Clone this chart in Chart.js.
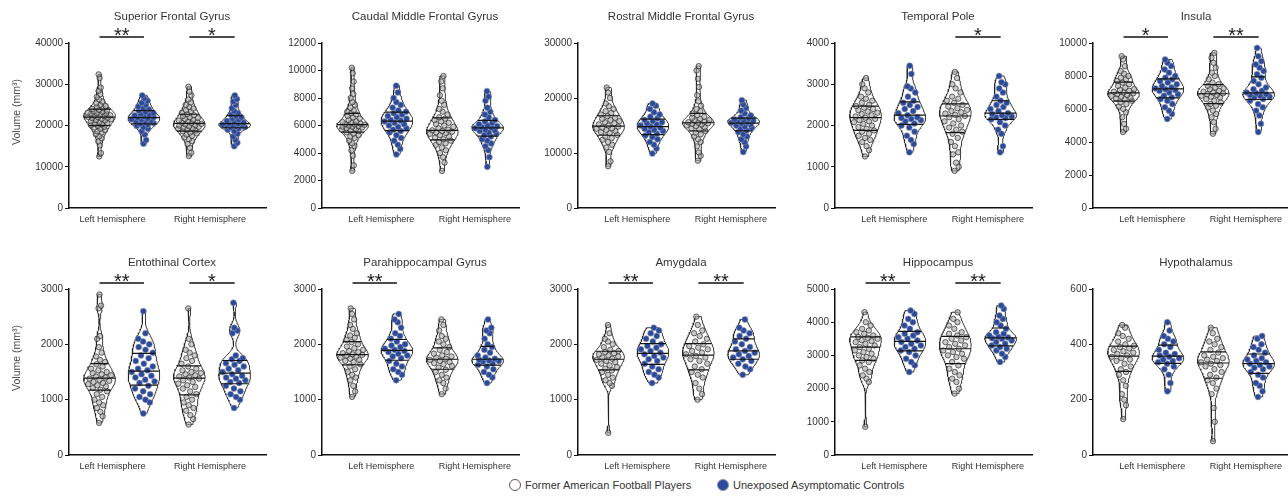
<!DOCTYPE html>
<html>
<head>
<meta charset="utf-8">
<script src="https://cdn.jsdelivr.net/npm/chart.js@4.4.1/dist/chart.umd.min.js"></script>
<style>
  html, body { margin: 0; padding: 0; background: #fff; overflow: hidden; }
  body { width: 1288px; height: 497px; position: relative; font-family: "Liberation Sans", Arial, Helvetica, sans-serif; }
  .panel { position: absolute; }
  .legend { position: absolute; top: 479px; font-size: 11px; color: #333; display: flex; align-items: center; }
  .dot { width: 12px; height: 12px; border-radius: 50%; box-sizing: border-box; margin-right: 4px; }
</style>
</head>
<body>
<div class="legend" style="left:509px"><span class="dot" style="border:1px solid #555;background:#fff"></span>Former American Football Players</div>
<div class="legend" style="left:717px"><span class="dot" style="background:#2c4a9a;border:1px solid #8d95b0"></span>Unexposed Asymptomatic Controls</div>
<script>
const FONT = '"Liberation Sans", Arial, Helvetica, sans-serif';

const titles = ['Superior Frontal Gyrus', 'Caudal Middle Frontal Gyrus', 'Rostral Middle Frontal Gyrus', 'Temporal Pole', 'Insula',
    'Entothinal Cortex', 'Parahippocampal Gyrus', 'Amygdala', 'Hippocampus', 'Hypothalamus'];
const hemispheres = ['Left Hemisphere', 'Right Hemisphere'];
const yMax = [40000, 12000, 30000, 4000, 10000, 3000, 3000, 3000, 5000, 600];
const yStep = [10000, 2000, 10000, 1000, 2000, 1000, 1000, 1000, 1000, 200];
const sigLeft = ['**', '', '', '', '*', '**', '**', '**', '**', ''];
const sigRight = ['*', '', '', '*', '**', '*', '', '**', '**', ''];

// volumes (mm3): LP/RP = former players left/right, LC/RC = controls left/right
const sfgLP = [12500,13300,15200,16100,16900,17400,17900,18300,18600,18900,19200,19500,19700,19900,20100,20300,20500,20600,20800,21000,21200,21300,21500,21600,21800,21900,22000,22100,22300,22400,22500,22600,22800,22900,23000,23100,23300,23400,23600,23800,24000,24200,24500,24700,25000,25400,25800,26300,26900,27600,28400,29200,31500,32400];
const sfgLC = [15600,16500,17800,18600,19200,19600,19900,20200,20400,20600,20800,21000,21200,21400,21500,21700,21900,22000,22200,22400,22600,22800,23000,23300,23600,23900,24200,24600,25000,25500,26000,26600,27300];
const sfgRP = [12600,13400,14600,15500,16200,16700,17100,17500,17800,18100,18300,18600,18800,19000,19200,19300,19500,19700,19800,20000,20100,20300,20400,20600,20700,20900,21000,21200,21400,21600,21800,22000,22300,22500,22800,23100,23400,23700,24100,24500,25000,25600,26300,27300,28200,29400];
const sfgRC = [15000,15800,16500,17300,18000,18600,19000,19300,19500,19600,19800,19900,20000,20100,20200,20400,20500,20700,20900,21100,21400,21700,22000,22300,22600,23000,23500,24200,25000,25800,26400,27300];

const cmfLP = [2700,3100,3800,4200,4500,4700,4900,5100,5200,5300,5400,5500,5600,5650,5700,5750,5800,5850,5900,5920,5950,6000,6050,6080,6100,6150,6200,6250,6300,6400,6500,6600,6700,6800,6900,7000,7100,7300,7500,7700,8000,8300,8700,9200,9800,10200];
const cmfLC = [3900,4300,4600,4900,5100,5300,5500,5600,5700,5800,5900,6000,6100,6200,6300,6350,6400,6500,6600,6700,6800,6900,7000,7100,7300,7500,7700,8000,8400,8900];
const cmfRP = [2700,3300,3700,4000,4200,4400,4600,4700,4800,4900,5000,5100,5200,5300,5400,5450,5500,5550,5600,5650,5700,5800,5900,6000,6100,6200,6300,6400,6500,6600,6800,7000,7200,7500,7800,8200,8700,9200,9600];
const cmfRC = [3000,3700,4200,4500,4700,4900,5000,5200,5300,5400,5500,5600,5650,5700,5800,5850,5900,5950,6000,6100,6200,6300,6400,6600,6800,7000,7300,7800,8100,8500];

const rmfLP = [7600,8500,10200,11000,11500,12000,12400,12700,13000,13300,13600,13800,14000,14200,14400,14500,14600,14800,15000,15200,15400,15600,15800,16000,16200,16400,16700,17000,17300,17600,18000,18500,19000,20000,21000,21900];
const rmfLC = [9900,10800,11500,12000,12500,12900,13200,13500,13800,14000,14200,14400,14600,14800,15000,15200,15400,15600,15800,16000,16300,16600,17000,17400,18000,18600,19000];
const rmfRP = [8600,9500,10100,11200,12000,12500,13000,13400,13700,14000,14300,14500,14700,14900,15000,15200,15300,15400,15500,15600,15700,15900,16000,16200,16400,16600,16900,17200,17600,18000,18600,19400,20500,22000,23500,25000,25800];
const rmfRC = [10200,11200,12000,12500,13000,13400,13800,14100,14400,14600,14800,15000,15200,15400,15500,15600,15800,15900,16000,16100,16300,16500,16800,17200,17700,18200,18800,19600];

const tpLP = [1250,1400,1500,1600,1650,1700,1750,1800,1850,1880,1920,1960,2000,2040,2080,2100,2130,2160,2190,2220,2250,2280,2310,2340,2370,2400,2430,2470,2500,2550,2600,2650,2700,2800,2900,3000,3150];
const tpLC = [1350,1550,1650,1750,1850,1950,2000,2050,2100,2130,2160,2180,2200,2250,2300,2350,2400,2450,2500,2550,2600,2700,2800,2900,2950,3250,3450];
const tpRP = [900,1000,1100,1300,1350,1500,1600,1700,1800,1850,1900,1950,2000,2050,2100,2150,2200,2230,2260,2290,2320,2350,2380,2420,2460,2500,2550,2600,2650,2700,2800,2900,3000,3150,3300];
const tpRC = [1350,1500,1800,1900,2000,2080,2150,2180,2200,2220,2250,2280,2300,2350,2400,2450,2500,2550,2600,2700,2800,2900,3000,3050,3200];

const insLP = [4600,4800,5100,5500,5800,6000,6150,6300,6400,6500,6600,6650,6700,6750,6800,6850,6900,6950,7000,7050,7100,7150,7200,7300,7400,7500,7600,7700,7800,7900,8000,8150,8300,8600,9000,9200];
const insLC = [5400,5700,5900,6100,6300,6500,6600,6700,6800,6900,7000,7100,7150,7200,7250,7300,7400,7500,7600,7700,7800,7900,8000,8200,8400,8600,8800,9000];
const insRP = [4500,4800,5200,5500,5700,5900,6100,6200,6300,6400,6500,6600,6700,6750,6800,6850,6900,6950,7000,7050,7100,7200,7250,7300,7400,7500,7600,7800,8000,8200,8500,8800,9100,9400];
const insRC = [4600,5100,5600,5900,6100,6300,6500,6600,6700,6750,6800,6850,6900,6950,7000,7100,7200,7300,7500,7700,7900,8100,8300,8500,8700,8900,9200,9700];

const entLP = [580,700,780,850,900,950,1000,1050,1100,1150,1180,1210,1240,1260,1280,1300,1320,1340,1360,1380,1400,1420,1440,1460,1480,1500,1530,1560,1600,1640,1680,1720,1780,1850,1950,2100,2150,2650,2700,2900];
const entLC = [750,950,1000,1050,1100,1150,1200,1250,1300,1330,1360,1400,1430,1460,1500,1530,1560,1600,1650,1700,1750,1800,1850,1900,1950,2000,2050,2100,2200,2600];
const entRP = [550,650,720,800,850,900,950,1000,1050,1100,1150,1200,1230,1260,1290,1320,1350,1380,1400,1420,1440,1460,1480,1500,1530,1560,1600,1650,1700,1750,1800,1850,1900,2000,2100,2650];
const entRC = [850,1000,1050,1100,1150,1200,1250,1300,1320,1350,1380,1400,1430,1460,1500,1530,1560,1600,1630,1660,1700,1730,1750,1800,2200,2250,2300,2750];

const phgLP = [1050,1150,1250,1350,1400,1450,1500,1550,1600,1640,1680,1700,1720,1740,1760,1780,1800,1810,1820,1840,1860,1880,1900,1930,1960,2000,2040,2080,2120,2160,2200,2280,2350,2450,2550,2650];
const phgLC = [1350,1450,1500,1550,1600,1650,1700,1750,1780,1800,1830,1860,1880,1900,1920,1950,1980,2000,2050,2100,2150,2200,2300,2400,2450,2550];
const phgRP = [1100,1200,1300,1350,1400,1450,1500,1540,1580,1610,1640,1660,1680,1700,1720,1740,1760,1780,1800,1830,1860,1900,1950,2000,2050,2100,2150,2250,2350,2450];
const phgRC = [1300,1400,1450,1500,1550,1600,1630,1660,1690,1700,1710,1720,1740,1760,1800,1850,1900,1950,2000,2100,2200,2250,2300,2450];

const amyLP = [400,1250,1300,1350,1400,1450,1500,1530,1560,1590,1620,1650,1680,1700,1720,1740,1760,1780,1800,1820,1840,1860,1880,1900,1950,2000,2050,2100,2200,2350];
const amyLC = [1300,1400,1450,1500,1550,1600,1650,1700,1730,1760,1790,1820,1850,1880,1910,1940,1970,2000,2050,2100,2150,2200,2250,2300];
const amyRP = [1000,1100,1200,1300,1400,1450,1500,1550,1600,1650,1700,1730,1760,1790,1820,1850,1880,1910,1940,1970,2000,2050,2100,2150,2200,2250,2350,2500];
const amyRC = [1450,1550,1600,1650,1700,1730,1760,1790,1820,1850,1880,1910,1950,2000,2050,2100,2150,2200,2250,2300,2450];

const hipLP = [850,2200,2300,2400,2500,2600,2700,2800,2850,2900,2950,3000,3050,3100,3150,3200,3250,3300,3350,3400,3430,3460,3500,3530,3560,3600,3650,3700,3750,3800,3900,4000,4300];
const hipLC = [2500,2700,2800,2900,3000,3100,3150,3200,3250,3300,3350,3400,3450,3500,3550,3600,3650,3700,3800,3900,4000,4100,4250,4350];
const hipRP = [1850,2000,2200,2300,2400,2500,2600,2700,2800,2900,2950,3000,3050,3100,3150,3200,3250,3300,3350,3400,3450,3500,3550,3600,3650,3700,3800,3900,4000,4100,4300];
const hipRC = [2800,2950,3050,3150,3200,3250,3300,3350,3400,3450,3500,3520,3540,3560,3600,3650,3700,3800,3900,4000,4100,4200,4400,4500];

const hypLP = [130,180,200,220,250,270,290,300,310,320,330,340,345,350,355,360,365,370,375,380,385,390,395,400,410,420,430,440,460,470];
const hypLC = [230,260,290,310,320,330,335,340,345,350,355,360,365,370,380,390,400,410,420,430,450,480];
const hypRP = [50,120,170,220,240,260,270,280,290,300,310,320,325,330,335,340,345,350,355,360,370,380,390,400,410,420,440,460];
const hypRC = [210,230,250,260,280,290,300,310,315,320,325,330,335,340,345,350,360,370,380,390,400,420,430];

const panelGroups = [
    [sfgLP, sfgLC, sfgRP, sfgRC], [cmfLP, cmfLC, cmfRP, cmfRC], [rmfLP, rmfLC, rmfRP, rmfRC],
    [tpLP, tpLC, tpRP, tpRC], [insLP, insLC, insRP, insRC], [entLP, entLC, entRP, entRC],
    [phgLP, phgLC, phgRP, phgRC], [amyLP, amyLC, amyRP, amyRC], [hipLP, hipLC, hipRP, hipRC],
    [hypLP, hypLC, hypRP, hypRC],
];

// layout
const axisX = [69, 322, 578, 835, 1093];
const rowTop = [0, 246];
const violinPos = [0.93, 2.28, 3.66, 5.04];
const HALF = 0.48;

function quantile(sorted, q) {
    const pos = (sorted.length - 1) * q;
    const lo = Math.floor(pos), hi = Math.ceil(pos);
    return sorted[lo] + (sorted[hi] - sorted[lo]) * (pos - lo);
}

function violinShape(values) {
    const v = values.slice().sort((a, b) => a - b);
    const n = v.length;
    const mean = v.reduce((s, a) => s + a, 0) / n;
    const sd = Math.sqrt(v.reduce((s, a) => s + (a - mean) ** 2, 0) / (n - 1));
    const q1 = quantile(v, 0.25), med = quantile(v, 0.5), q3 = quantile(v, 0.75);
    const h = 0.75 * 0.9 * Math.min(sd, (q3 - q1) / 1.34) * Math.pow(n, -0.2);
    const lo = v[0], hi = v[n - 1];
    const ys = [], ds = [];
    for (let k = 0; k <= 80; k++) {
        const y = lo + (hi - lo) * k / 80;
        let d = 0;
        v.forEach(a => { const z = (y - a) / h; d += Math.exp(-0.5 * z * z); });
        ys.push(y);
        ds.push(d);
    }
    const dMax = Math.max(...ds);
    const ws = ds.map(d => d / dMax * HALF);
    const widthAt = y => {
        const t = (y - lo) / (hi - lo) * 80;
        const k = Math.min(79, Math.max(0, Math.floor(t)));
        return ws[k] + (ws[k + 1] - ws[k]) * (t - k);
    };
    return { v, ys, ws, q1, med, q3, widthAt };
}

function groupDatasets(values, c, isControl) {
    const s = violinShape(values);
    const right = s.ys.map((y, k) => ({ x: c + s.ws[k], y }));
    const left = s.ys.map((y, k) => ({ x: c - s.ws[k], y })).reverse();
    const outline = right.concat(left, [right[0]]);
    const qLines = [];
    [s.q1, s.med, s.q3].forEach(q => {
        const w = s.widthAt(q);
        qLines.push({ x: c - w, y: q }, { x: c + w, y: q }, { x: c, y: null });
    });
    const pts = s.v.map((y, i) => {
        const t = ((i * 0.6180339887 + 0.37) % 1) * 2 - 1;
        return { x: c + t * 0.82 * s.widthAt(y), y };
    });
    return [
        { data: outline, showLine: true, borderColor: '#222', borderWidth: 0.9, pointRadius: 0, fill: false, order: 3 },
        { data: pts, showLine: false, pointRadius: isControl ? 3 : 2.7,
          pointBackgroundColor: isControl ? '#2c4a9a' : 'rgba(165,165,165,0.6)',
          pointBorderColor: isControl ? 'rgba(150,158,182,0.9)' : 'rgba(35,35,35,0.9)',
          pointBorderWidth: isControl ? 0.6 : 0.75, order: 2 },
        { data: qLines, showLine: true, spanGaps: false, borderColor: '#151515', borderWidth: 1.2, pointRadius: 0, order: 1 },
    ];
}

function decoPlugin(p) {
    return {
        id: 'deco' + p,
        afterDraw(chart) {
            const ctx = chart.ctx, area = chart.chartArea, xs = chart.scales.x;
            ctx.save();
            ctx.fillStyle = '#333';
            ctx.font = '11.5px ' + FONT;
            ctx.textAlign = 'center';
            ctx.textBaseline = 'middle';
            ctx.fillText(titles[p], area.left + 103, 17);
            [sigLeft[p], sigRight[p]].forEach((s, h) => {
                if (!s) return;
                const x0 = xs.getPixelForValue(violinPos[2 * h]);
                const x1 = xs.getPixelForValue(violinPos[2 * h + 1]);
                ctx.strokeStyle = '#111';
                ctx.lineWidth = 1.5;
                ctx.beginPath();
                ctx.moveTo(x0, 37);
                ctx.lineTo(x1, 37);
                ctx.stroke();
                ctx.fillStyle = '#222';
                ctx.font = '20px ' + FONT;
                ctx.textBaseline = 'alphabetic';
                ctx.fillText(s, (x0 + x1) / 2, 42);
            });
            if (p % 5 === 0) {
                ctx.translate(17, 112);
                ctx.rotate(-Math.PI / 2);
                ctx.fillStyle = '#444';
                ctx.font = '10.5px ' + FONT;
                ctx.textBaseline = 'middle';
                ctx.fillText('Volume (mm³)', 0, 0);
            }
            ctx.restore();
        },
    };
}

for (let p = 0; p < 10; p++) {
    const col = p % 5, row = Math.floor(p / 5);
    const yw = col === 0 ? 69 : 52;
    const left = axisX[col] - yw;
    const w = yw + 202, hgt = row === 0 ? 234 : 235;
    const div = document.createElement('div');
    div.className = 'panel';
    div.style.left = left + 'px';
    div.style.top = rowTop[row] + 'px';
    const canvas = document.createElement('canvas');
    canvas.width = w;
    canvas.height = hgt;
    canvas.style.width = w + 'px';
    canvas.style.height = hgt + 'px';
    div.appendChild(canvas);
    document.body.appendChild(div);

    const labelPos = col === 0 ? [1.32, 4.29] : [1.8, 4.65];
    let datasets = [];
    panelGroups[p].forEach((vals, g) => {
        datasets = datasets.concat(groupDatasets(vals, violinPos[g], g % 2 === 1));
    });

    new Chart(canvas.getContext('2d'), {
        type: 'scatter',
        data: { datasets },
        options: {
            responsive: false,
            animation: false,
            events: [],
            layout: { padding: { top: 43, right: 2, left: 0, bottom: 0 } },
            plugins: { legend: { display: false }, tooltip: { enabled: false } },
            scales: {
                x: {
                    type: 'linear', min: 0, max: 6,
                    afterBuildTicks: s => { s.ticks = labelPos.map(v => ({ value: v })); },
                    afterFit: s => { s.height = 26; },
                    ticks: { callback: (v, i) => hemispheres[i], font: { size: 9, family: FONT }, color: '#333', padding: 6, maxRotation: 0, autoSkip: false },
                    grid: { display: false, drawTicks: false },
                    border: { display: true, color: '#111', width: 1.5 },
                },
                y: {
                    min: 0, max: yMax[p],
                    afterFit: s => { s.width = yw; },
                    ticks: { stepSize: yStep[p], callback: v => String(v), font: { size: 10, family: FONT }, color: '#333', padding: 2 },
                    grid: { drawOnChartArea: false, drawTicks: true, tickLength: 4, color: '#111', lineWidth: 1 },
                    border: { display: true, color: '#111', width: 1.5 },
                },
            },
        },
        plugins: [decoPlugin(p)],
    });
}
</script>
</body>
</html>
